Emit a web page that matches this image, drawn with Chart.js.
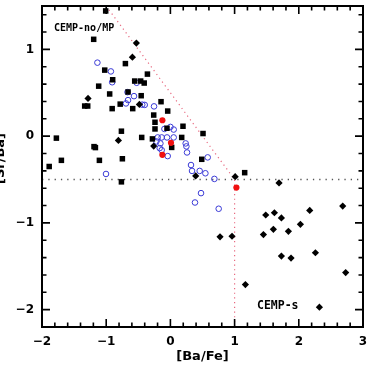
<!DOCTYPE html>
<html>
<head>
<meta charset="utf-8">
<script src="https://cdn.jsdelivr.net/npm/chart.js@4/dist/chart.umd.min.js"></script>
<style>
html,body{margin:0;padding:0;background:#fff;}
canvas{display:block;}
</style>
</head>
<body>
<canvas id="c" width="371" height="366"></canvas>
<script>
// ---- data ----
const xTickValues = [-2, -1, 0, 1, 2, 3];
const yTickValues = [-2, -1, 0, 1];
const xTitle = '[Ba/Fe]';
const yTitle = '[Sr/Ba]';
const labelNoMP = 'CEMP-no/MP';
const labelS = 'CEMP-s';

// filled black squares
const squareBaFe = [-1.008,-1.195,-1.023,-0.899,-1.117,-0.701,-0.946,-1.335,-1.288,-0.907,-0.782,-0.660,-0.587,-0.556,-0.463,-0.408,-0.358,-0.455,-0.146,-0.042,-0.260,-0.240,-0.240,-0.053,0.196,0.508,-0.447,-0.280,0.176,0.020,0.488,1.157,-1.776,-0.763,-1.190,-1.168,-1.698,-1.888,-1.106,-0.748,-0.763];
const squareSrBa = [1.443,1.116,0.761,0.650,0.576,0.836,0.486,0.347,0.347,0.317,0.369,0.509,0.317,0.635,0.635,0.612,0.715,0.466,0.397,0.289,0.243,0.160,0.083,0.091,0.114,0.030,-0.015,-0.032,-0.015,-0.130,-0.267,-0.421,-0.023,0.057,-0.121,-0.132,-0.279,-0.350,-0.279,-0.261,-0.527];

// filled black diamonds
const diamondBaFe = [-0.530,-0.592,-1.283,-0.483,-0.810,-0.260,0.394,1.009,1.692,0.773,0.960,1.168,1.449,1.485,1.620,1.604,1.729,1.838,1.729,1.879,2.025,2.170,2.259,2.321,2.684,2.730];
const diamondSrBa = [1.073,0.910,0.435,0.366,-0.050,-0.115,-0.459,-0.467,-0.539,-1.161,-1.154,-1.711,-1.135,-0.909,-0.883,-1.074,-0.943,-1.097,-1.383,-1.406,-1.017,-0.856,-1.344,-1.971,-0.806,-1.573];

// open blue circles
const circleBaFe = [-1.137,-0.927,-0.907,-0.525,-0.668,-0.567,-0.660,-0.692,-0.439,-0.400,-0.255,-0.093,0.000,0.051,-0.198,-0.136,-0.053,0.051,-0.218,-0.156,-0.167,-0.136,-0.042,0.238,0.249,0.259,0.581,0.321,0.337,0.456,0.545,0.685,0.477,0.383,0.752,-1.003];
const circleSrBa = [0.847,0.746,0.621,0.615,0.507,0.461,0.415,0.377,0.363,0.360,0.343,0.083,0.106,0.076,-0.015,-0.015,-0.015,-0.015,-0.061,-0.084,-0.138,-0.161,-0.230,-0.084,-0.118,-0.188,-0.245,-0.333,-0.401,-0.401,-0.428,-0.493,-0.657,-0.765,-0.837,-0.436];

// filled red circles
const redBaFe = [-0.125, 0.009, -0.125, 1.028];
const redSrBa = [0.183, -0.077, -0.215, -0.593];

// dividing lines
const cutBaFe = [-1, 1, 1];
const cutSrBa = [1.5, -0.5, -2.2];
const levelBaFe = [-2, 3];
const levelSrBa = [-0.5, -0.5];

const zip = (xs, ys) => xs.map((x, i) => ({x: x, y: ys[i]}));
const minus = v => String(v).replace('-', '\u2212');

const frameTicks = {
  id: 'frameTicks',
  afterDatasetsDraw(chart) {
    const {ctx, chartArea: a, scales: {x, y}} = chart;
    ctx.save();
    ctx.strokeStyle = '#000';
    ctx.lineWidth = 1.6;
    ctx.beginPath();
    for (let i = -20; i <= 30; i += 2) {
      const px = x.getPixelForValue(i / 10);
      const len = (i % 10 === 0) ? 8 : 4.5;
      ctx.moveTo(px, a.bottom); ctx.lineTo(px, a.bottom - len);
      ctx.moveTo(px, a.top); ctx.lineTo(px, a.top + len);
    }
    for (let i = -22; i <= 14; i += 2) {
      const py = y.getPixelForValue(i / 10);
      const len = (i % 10 === 0) ? 8 : 4.5;
      ctx.moveTo(a.left, py); ctx.lineTo(a.left + len, py);
      ctx.moveTo(a.right, py); ctx.lineTo(a.right - len, py);
    }
    ctx.stroke();
    ctx.lineWidth = 2;
    ctx.strokeRect(a.left, a.top, a.right - a.left, a.bottom - a.top);

    ctx.fillStyle = '#000';
    ctx.font = 'bold 13px "DejaVu Sans"';
    ctx.textAlign = 'center';
    ctx.textBaseline = 'middle';
    ctx.fillText(xTitle, (a.left + a.right) / 2, 357);
    ctx.save();
    ctx.translate(1, (a.top + a.bottom) / 2 - 8);
    ctx.rotate(-Math.PI / 2);
    ctx.fillText(yTitle, 0, 0);
    ctx.restore();

    ctx.textAlign = 'left';
    ctx.font = 'bold 10px "DejaVu Sans Mono"';
    ctx.fillText(labelNoMP, 54, 28.5);
    ctx.font = 'bold 11.5px "DejaVu Sans Mono"';
    ctx.fillText(labelS, 257, 306.5);
    ctx.restore();
  }
};

const tickFont = {family: 'DejaVu Sans', weight: 'bold', size: 12};
const noPad = s => { s.paddingLeft = 0; s.paddingRight = 0; s.paddingTop = 0; s.paddingBottom = 0; };

new Chart(document.getElementById('c'), {
  type: 'scatter',
  data: {
    datasets: [
      {type: 'line', data: zip(levelBaFe, levelSrBa), borderColor: '#555', borderWidth: 1.3,
       borderDash: [1.3, 5], pointRadius: 0, fill: false, order: 10},
      {type: 'line', data: zip(cutBaFe, cutSrBa), borderColor: '#e86a80', borderWidth: 1.2,
       borderDash: [1.2, 3.5], pointRadius: 0, fill: false, order: 10},
      {data: zip(circleBaFe, circleSrBa), pointStyle: 'circle', pointRadius: 2.8,
       backgroundColor: 'rgba(0,0,0,0)', borderColor: '#3a3ad6', borderWidth: 1, order: 3},
      {data: zip(squareBaFe, squareSrBa), pointStyle: 'rect', pointRadius: 3.9,
       backgroundColor: '#000', borderColor: '#000', borderWidth: 0, order: 2},
      {data: zip(diamondBaFe, diamondSrBa), pointStyle: 'rectRot', pointRadius: 3.6,
       backgroundColor: '#000', borderColor: '#000', borderWidth: 0, order: 2},
      {data: zip(redBaFe, redSrBa), pointStyle: 'circle', pointRadius: 3.1,
       backgroundColor: '#f01010', borderColor: '#f01010', borderWidth: 0, order: 1}
    ]
  },
  options: {
    responsive: false,
    animation: false,
    devicePixelRatio: 1,
    layout: {padding: {top: 6, right: 8, left: 0, bottom: 0}},
    plugins: {legend: {display: false}, tooltip: {enabled: false}},
    scales: {
      x: {
        type: 'linear', min: -2, max: 3,
        grid: {display: false, drawTicks: false},
        border: {display: false},
        afterBuildTicks: s => { s.ticks = xTickValues.map(v => ({value: v})); },
        afterFit: s => { s.height = 39; noPad(s); },
        ticks: {color: '#000', font: tickFont, padding: 8, maxRotation: 0, callback: v => minus(v)}
      },
      y: {
        type: 'linear', min: -2.2, max: 1.5,
        grid: {display: false, drawTicks: false},
        border: {display: false},
        afterBuildTicks: s => { s.ticks = yTickValues.map(v => ({value: v})); },
        afterFit: s => { s.width = 42; noPad(s); },
        ticks: {color: '#000', font: tickFont, padding: 8, callback: v => minus(v)}
      }
    }
  },
  plugins: [frameTicks]
});
</script>
</body>
</html>
